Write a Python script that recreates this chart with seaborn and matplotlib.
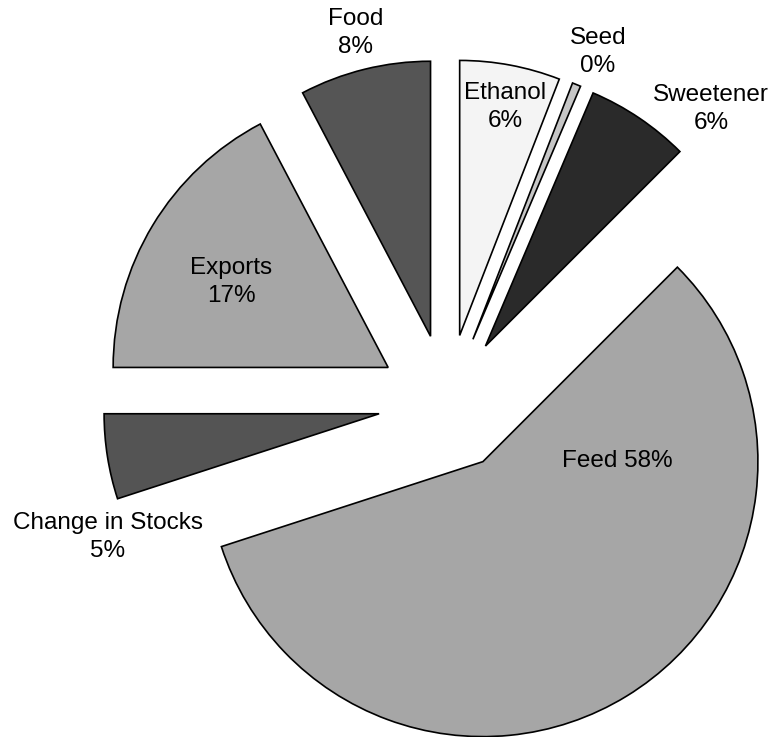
import matplotlib
matplotlib.use("Agg")
import matplotlib.pyplot as plt
import seaborn as sns

# Data
categories = ["Ethanol", "Seed", "Sweetener", "Feed", "Change in Stocks", "Exports", "Food"]
shares = [5.9, 0.5, 6.1, 57.5, 5.0, 17.3, 7.7]
pct_labels = ["6%", "0%", "6%", "58%", "5%", "17%", "8%"]

# Style
colors = ["#f4f4f4", "#c6c6c6", "#2a2a2a", "#a6a6a6", "#545454", "#a6a6a6", "#555555"]
explode = [0.25] * len(categories)
label_pos = {
    "Ethanol": (0.211, 1.076),
    "Seed": (0.549, 1.276),
    "Sweetener": (0.96, 1.069),
    "Feed": (0.618, -0.211),
    "Change in Stocks": (-1.233, -0.487),
    "Exports": (-0.785, 0.44),
    "Food": (-0.331, 1.345),
}

sns.set_theme(style="white")
plt.rcParams["font.family"] = ["Liberation Sans", "DejaVu Sans"]

fig = plt.figure(figsize=(7.81, 7.37), dpi=100)
ax = fig.add_axes([0, 0, 1, 1])
ax.pie(shares, colors=colors, explode=explode, startangle=90, counterclock=False,
       radius=1.0, wedgeprops=dict(edgecolor="black", linewidth=1.2))

for cat, pct in zip(categories, pct_labels):
    x, y = label_pos[cat]
    txt = f"{cat} {pct}" if cat == "Feed" else f"{cat}\n{pct}"
    ax.text(x, y, txt, ha="center", va="center", fontsize=17.5, color="black",
            linespacing=1.33)

Cx, Cy, R = 447, 403, 275
ax.set_xlim(-Cx / R, (781 - Cx) / R)
ax.set_ylim(-(737 - Cy) / R, Cy / R)
ax.set_aspect("auto")
ax.axis("off")

fig.savefig("out.png", dpi=100)
